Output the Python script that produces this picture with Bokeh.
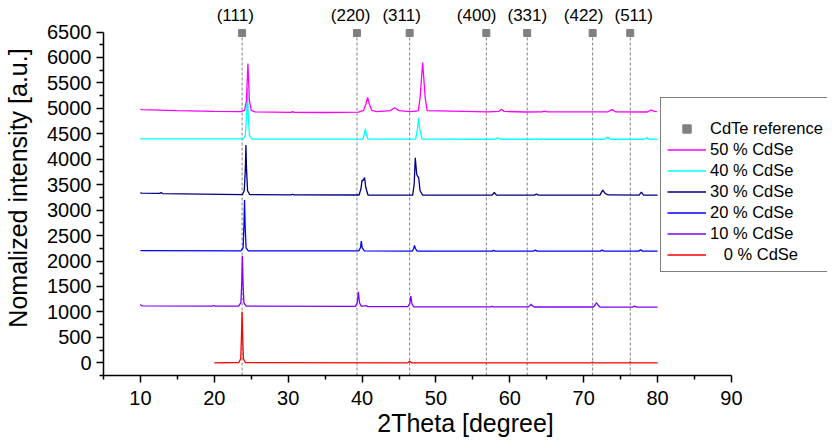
from bokeh.plotting import figure
from bokeh.models import Range1d, FixedTicker, Legend, LegendItem
from bokeh.embed import file_html
from bokeh.resources import INLINE
from bokeh.core.properties import value

FONT = "Liberation Sans"

# CdTe reference reflections
ref_pos = [23.76, 39.31, 46.44, 56.82, 62.35, 71.21, 76.30]
ref_labels = ["(111)", "(220)", "(311)", "(400)", "(331)", "(422)", "(511)"]
ref_label_x = [22.83, 38.45, 45.35, 55.51, 62.37, 69.99, 76.77]
ref_marker_y = [6480] * 7
ref_label_y = [6820] * 7

# 0 % CdSe
p0_x = [20.0, 23.3, 23.58, 23.68, 23.76, 23.84, 23.94, 24.2, 46.2, 46.44, 46.7,
        71.0, 71.21, 71.4, 76.1, 76.3, 76.5, 80.0]
p0_y = [0, 5, 80, 520, 1000, 520, 80, 5, 0, 30, 0, 0, 15, 0, 0, 12, 0, 0]

# 10 % CdSe
p10_x = [10.0, 10.1, 10.3, 19.7, 19.9, 20.1, 23.3, 23.6, 23.72, 23.8, 23.88, 24.0,
         24.3, 39.1, 39.35, 39.5, 39.65, 39.9, 40.5, 40.8, 46.2, 46.45, 46.6, 46.75,
         47.0, 57.4, 57.6, 57.8, 62.5, 62.75, 62.87, 63.0, 63.3, 71.3, 71.55, 71.72,
         71.9, 72.2, 76.6, 76.9, 77.2, 80.0]
p10_y = [1150, 1125, 1118, 1112, 1125, 1112, 1115, 1180, 1600, 2096, 1600, 1180,
         1115, 1108, 1180, 1395, 1180, 1110, 1122, 1105, 1102, 1160, 1310, 1160,
         1100, 1098, 1110, 1097, 1097, 1125, 1153, 1125, 1096, 1096, 1140, 1180,
         1140, 1095, 1095, 1115, 1095, 1094]

# 20 % CdSe
p20_x = [10.0, 23.6, 23.9, 24.01, 24.09, 24.17, 24.3, 24.6, 39.55, 39.78, 39.9,
         40.02, 40.3, 46.8, 47.0, 47.1, 47.2, 47.45, 57.6, 57.8, 58.0, 63.2, 63.45,
         63.7, 72.25, 72.5, 72.75, 77.45, 77.7, 77.95, 80.0]
p20_y = [2205, 2200, 2260, 2700, 3197, 2700, 2260, 2200, 2198, 2260, 2391, 2260,
         2197, 2196, 2250, 2305, 2250, 2196, 2195, 2207, 2195, 2195, 2215, 2195,
         2195, 2215, 2195, 2195, 2218, 2195, 2195]

# 30 % CdSe
p30_x = [10.0, 10.15, 12.6, 12.8, 13.0, 23.8, 24.05, 24.2, 24.28, 24.36, 24.5, 24.8,
         30.4, 30.6, 30.8, 39.6, 39.85, 40.0, 40.15, 40.34, 40.5, 40.8, 46.85, 47.05,
         47.2, 47.4, 47.55, 47.66, 47.85, 48.2, 57.6, 57.9, 58.2, 63.35, 63.6, 63.85,
         72.2, 72.57, 72.9, 73.3, 77.5, 77.8, 78.1, 80.0]
p30_y = [3345, 3335, 3330, 3345, 3325, 3305, 3380, 3800, 4278, 3800, 3380, 3303,
         3300, 3312, 3298, 3297, 3420, 3590, 3580, 3641, 3450, 3297, 3296, 3500,
         4028, 3700, 3655, 3640, 3380, 3296, 3295, 3346, 3295, 3295, 3318, 3295,
         3295, 3393, 3330, 3298, 3295, 3354, 3295, 3293]

# 40 % CdSe
p40_x = [10.0, 10.2, 23.9, 24.2, 24.38, 24.48, 24.58, 24.75, 25.1, 40.1, 40.32,
         40.44, 40.56, 40.8, 47.25, 47.5, 47.65, 47.8, 48.1, 58.0, 58.35, 58.7, 63.3,
         63.6, 63.9, 72.8, 73.2, 73.6, 78.1, 78.5, 78.9, 80.0]
p40_y = [4410, 4400, 4398, 4470, 4900, 5400, 4900, 4470, 4396, 4395, 4500, 4604,
         4500, 4394, 4394, 4600, 4814, 4600, 4393, 4392, 4422, 4392, 4392, 4405,
         4392, 4392, 4432, 4392, 4392, 4420, 4392, 4390]

# 50 % CdSe
p50_x = [10.0, 10.2, 15.0, 20.0, 23.6, 24.1, 24.35, 24.47, 24.55, 24.63, 24.75,
         25.0, 25.5, 30.4, 30.6, 30.8, 35.0, 39.5, 40.2, 40.55, 40.75, 40.95, 41.3,
         42.0, 43.8, 44.4, 45.0, 46.5, 47.6, 47.85, 48.0, 48.2, 48.4, 48.55, 48.8,
         57.0, 58.5, 58.85, 59.2, 62.0, 64.3, 64.7, 65.1, 73.3, 73.8, 74.3, 78.6,
         79.1, 79.6, 79.9]
p50_y = [4980, 4975, 4955, 4940, 4935, 4960, 5150, 5600, 5881, 5600, 5150, 4960,
         4930, 4920, 4935, 4920, 4918, 4925, 4960, 5100, 5213, 5100, 4960, 4935,
         4955, 5010, 4955, 4935, 4950, 5200, 5500, 5900, 5500, 5200, 4955, 4930,
         4940, 4984, 4940, 4928, 4930, 4945, 4930, 4932, 4975, 4932, 4928, 4965,
         4940, 4935]

series = [
    ("50 % CdSe", p50_x, p50_y, "#FF00FF"),
    ("40 % CdSe", p40_x, p40_y, "#00FFFF"),
    ("30 % CdSe", p30_x, p30_y, "#000080"),
    ("20 % CdSe", p20_x, p20_y, "#0000FF"),
    ("10 % CdSe", p10_x, p10_y, "#8000FF"),
    ("\u2007 0 % CdSe", p0_x, p0_y, "#FF0000"),
]

x_ticks = [10, 20, 30, 40, 50, 60, 70, 80, 90]
x_minor = [5, 15, 25, 35, 45, 55, 65, 75, 85]
y_ticks = [0, 500, 1000, 1500, 2000, 2500, 3000, 3500, 4000, 4500, 5000, 5500, 6000, 6500]
y_minor = [-250, 250, 750, 1250, 1750, 2250, 2750, 3250, 3750, 4250, 4750, 5250, 5750, 6250]

p = figure(width=827, height=440, output_backend="svg", toolbar_location=None,
           x_range=Range1d(5, 103.0), y_range=Range1d(-250, 7119),
           min_border_left=103, min_border_right=0, min_border_top=0,
           min_border_bottom=65)
p.outline_line_color = None
p.xgrid.visible = False
p.ygrid.visible = False
p.background_fill_color = "white"
p.border_fill_color = "white"

# reference lines, markers and labels
p.segment(x0=ref_pos, y0=[-250] * 7, x1=ref_pos, y1=ref_marker_y,
          line_color="#808080", line_width=1, line_dash="3 2")
ref_r = p.scatter(ref_pos, ref_marker_y, marker="square", size=7,
                  fill_color="#808080", line_color="#808080")
p.text(x=ref_label_x, y=ref_label_y, text=ref_labels, text_align="center",
       text_baseline="middle", text_font=value(FONT), text_font_size="17px",
       text_color="black")

renderers = {}
for name, xs, ys, col in reversed(series):
    renderers[name] = p.line(xs, ys, line_color=col, line_width=1.3)

for ax, lab in ((p.xaxis[0], "2Theta [degree]"), (p.yaxis[0], "Nomalized intensity [a.u.]")):
    ax.axis_label = lab
    ax.axis_label_text_font = FONT
    ax.axis_label_text_font_size = "25px"
    ax.axis_label_text_font_style = "normal"
    ax.axis_label_text_color = "black"
    ax.major_label_text_font = FONT
    ax.major_label_text_font_size = "20px"
    ax.major_label_text_color = "black"
    ax.axis_line_color = "black"
    ax.axis_line_width = 1.5
    ax.major_tick_line_color = "black"
    ax.minor_tick_line_color = "black"
    ax.major_tick_line_width = 1.5
    ax.minor_tick_line_width = 1.5
    ax.major_tick_in = 0
    ax.major_tick_out = 7
    ax.minor_tick_in = 0
    ax.minor_tick_out = 4

p.xaxis[0].ticker = FixedTicker(ticks=x_ticks, minor_ticks=x_minor)
p.yaxis[0].ticker = FixedTicker(ticks=y_ticks, minor_ticks=y_minor)
p.yaxis[0].bounds = (-250, 6500)
p.xaxis[0].bounds = (5, 90)
p.xaxis[0].major_label_standoff = 8
p.yaxis[0].major_label_standoff = 5
p.xaxis[0].axis_label_standoff = 1
p.yaxis[0].axis_label_standoff = 12

items = [LegendItem(label="CdTe reference", renderers=[ref_r])]
for name, xs, ys, col in series:
    items.append(LegendItem(label=name, renderers=[renderers[name]]))

legend = Legend(items=items, location=(557, 103), title=" ",
                title_text_font_size="12px", title_standoff=0,
                label_text_font=FONT, label_text_font_size="16.5px",
                label_text_color="black", label_height=21, glyph_height=21,
                glyph_width=39, label_standoff=4, spacing=0, padding=6,
                label_width=130, border_line_color="black", border_line_width=1,
                background_fill_alpha=1.0, margin=0)
p.add_layout(legend, "center")

open("out.html", "w").write(file_html(p, INLINE))
